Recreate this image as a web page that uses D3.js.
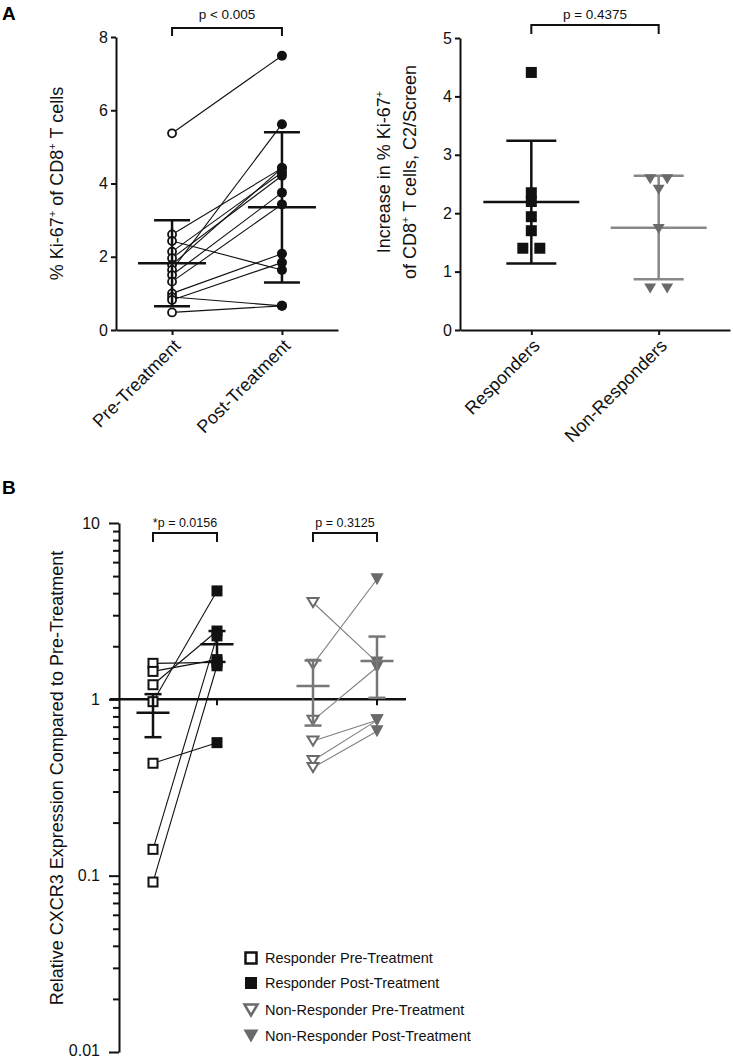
<!DOCTYPE html>
<html><head><meta charset="utf-8">
<script src="https://cdn.jsdelivr.net/npm/d3@7"></script>
<style>body{margin:0;background:#fff}svg{display:block}text{font-family:"Liberation Sans",Arial,sans-serif}</style>
</head><body><svg id="c" width="733" height="1059"></svg>
<script>
// ---------- DATA ----------
// Panel A (left): % Ki-67+ of CD8+ T cells, paired pre/post
const kiCategories = ["Pre-Treatment", "Post-Treatment"];
const kiPre  = [5.37, 2.61, 2.43, 2.14, 1.96, 1.78, 1.64, 1.50, 1.32, 1.00, 0.90, 0.82, 0.48];
const kiPost = [7.49, 4.42, 1.64, 4.30, 4.21, 4.42, 5.62, 3.75, 3.43, 2.08, 0.66, 1.84, 0.66];
const kiMean   = [1.82, 3.35];
const kiSdLow  = [0.65, 1.30];
const kiSdHigh = [3.00, 5.40];
const kiTicks  = [0, 2, 4, 6, 8];
const kiP = "p < 0.005";

// Panel A (right): increase in % Ki-67+, C2/Screen
const incCategories = ["Responders", "Non-Responders"];
const incResponders    = [4.41, 2.35, 2.20, 1.94, 1.70, 1.40, 1.40];
const incNonResponders = [2.58, 2.58, 2.40, 1.73, 0.71, 0.71];
const incMean   = [2.19, 1.75];
const incSdLow  = [1.14, 0.87];
const incSdHigh = [3.24, 2.64];
const incTicks  = [0, 1, 2, 3, 4, 5];
const incP = "p = 0.4375";

// Panel B: relative CXCR3 expression (log scale)
const cxGroups = ["Responder", "Non-Responder"];
const cxTimes  = ["Pre-Treatment", "Post-Treatment"];
const cxRespPre  = [1.60, 1.44, 1.21, 0.97, 0.434, 0.141, 0.092];
const cxRespPost = [1.62, 1.68, 2.44, 4.12, 0.568, 2.29, 1.55];
const cxNonPre   = [3.54, 1.58, 0.76, 0.58, 0.45, 0.41];
const cxNonPost  = [1.62, 4.80, 1.52, 0.76, 0.76, 0.66];
const cxMean    = [[0.84, 2.05], [1.19, 1.65]];
const cxSemLow  = [[0.61, 1.63], [0.71, 1.02]];
const cxSemHigh = [[1.07, 2.44], [1.66, 2.27]];
const cxTicks = [0.01, 0.1, 1, 10];
const cxTickLabels = ["0.01", "0.1", "1", "10"];
const cxP = ["*p = 0.0156", "p = 0.3125"];
const legendLabels = ["Responder Pre-Treatment", "Responder Post-Treatment",
                      "Non-Responder Pre-Treatment", "Non-Responder Post-Treatment"];

// ---------- DRAWING ----------
const svg = d3.select("#c");
const black = "#111", grayLine = "#808080", grayMark = "#6a6a6a";

function styleAxis(g, fs) {
  g.select(".domain").attr("stroke", black).attr("stroke-width", 2);
  g.selectAll(".tick line").attr("stroke", black).attr("stroke-width", 2);
  g.selectAll(".tick text").attr("fill", black).attr("font-size", fs)
    .style("font-family", "'Liberation Sans', Arial, sans-serif");
}
function errBar(g, x, m, lo, hi, hm, hc, color) {
  const add = (x1, y1, x2, y2) => g.append("line").attr("x1", x1).attr("y1", y1).attr("x2", x2).attr("y2", y2)
    .attr("stroke", color).attr("stroke-width", 2.5);
  add(x, lo, x, hi);
  add(x - hc, lo, x + hc, lo);
  add(x - hc, hi, x + hc, hi);
  add(x - hm, m, x + hm, m);
}
function bracket(g, x1, x2, y, leg, label, fs, ty) {
  g.append("path").attr("d", `M${x1},${y + leg}V${y}H${x2}V${y + leg}`)
    .attr("fill", "none").attr("stroke", black).attr("stroke-width", 2);
  g.append("text").attr("x", (x1 + x2) / 2).attr("y", ty).attr("text-anchor", "middle")
    .attr("font-size", fs).attr("fill", black).text(label);
}
function dodge(vals, step) {
  const counts = {}, seen = {};
  vals.forEach(v => counts[v] = (counts[v] || 0) + 1);
  return vals.map(v => { const n = counts[v]; const k = seen[v] = (seen[v] || 0); seen[v]++; return (k - (n - 1) / 2) * step; });
}
const triDown = (w, h) => `M${-w/2},${-h/2}L${w/2},${-h/2}L0,${h/2}Z`;

// ---- Panel labels
svg.append("text").attr("x", 2).attr("y", 20).attr("font-size", 19).attr("font-weight", "bold").text("A");
svg.append("text").attr("x", 2).attr("y", 494).attr("font-size", 19).attr("font-weight", "bold").text("B");

// ---- Panel A left
{
  const g = svg.append("g");
  const y = d3.scaleLinear().domain([0, 8]).range([330, 37]);
  const x = d3.scalePoint().domain(kiCategories).range([116, 338]).padding(0.51);
  g.append("g").attr("transform", "translate(116,0)")
    .call(d3.axisLeft(y).tickValues(kiTicks).tickFormat(d3.format("d")).tickSize(5).tickSizeOuter(0).tickPadding(3))
    .call(a => styleAxis(a, 16));
  g.append("g").attr("transform", "translate(0,330)")
    .call(d3.axisBottom(x).tickSize(5).tickSizeOuter(0))
    .call(a => styleAxis(a, 18))
    .call(a => a.selectAll(".tick text").attr("text-anchor", "end").attr("y", 0).attr("dy", 0)
      .attr("transform", "translate(9,17) rotate(-45)"));
  const xp = x(kiCategories[0]), xq = x(kiCategories[1]);
  kiPre.forEach((v, i) => g.append("line").attr("x1", xp).attr("y1", y(v)).attr("x2", xq).attr("y2", y(kiPost[i]))
    .attr("stroke", black).attr("stroke-width", 1.1));
  g.selectAll("circle.pre").data(kiPre).join("circle").attr("cx", xp).attr("cy", d => y(d)).attr("r", 4)
    .attr("fill", "#fff").attr("stroke", black).attr("stroke-width", 1.8);
  g.selectAll("circle.post").data(kiPost).join("circle").attr("cx", xq).attr("cy", d => y(d)).attr("r", 5)
    .attr("fill", black);
  kiCategories.forEach((c, i) => errBar(g, x(c), y(kiMean[i]), y(kiSdLow[i]), y(kiSdHigh[i]), 34, 18, black));
  bracket(g, xp, xq, 28, 8, kiP, 13.5, 19);
  g.append("text").attr("transform", `translate(63,${(y(0) + y(8)) / 2}) rotate(-90)`).attr("text-anchor", "middle")
    .attr("font-size", 18).attr("fill", black)
    .call(t => { t.append("tspan").text("% Ki-67"); t.append("tspan").attr("font-size", 11).attr("dy", -7).text("+");
      t.append("tspan").attr("dy", 7).text(" of CD8"); t.append("tspan").attr("font-size", 11).attr("dy", -7).text("+");
      t.append("tspan").attr("dy", 7).text(" T cells"); });
}

// ---- Panel A right
{
  const g = svg.append("g");
  const y = d3.scaleLinear().domain([0, 5]).range([330, 38]);
  const x = d3.scalePoint().domain(incCategories).range([460, 730]).padding(0.56);
  g.append("g").attr("transform", "translate(460,0)")
    .call(d3.axisLeft(y).tickValues(incTicks).tickFormat(d3.format("d")).tickSize(5).tickSizeOuter(0).tickPadding(3))
    .call(a => styleAxis(a, 16));
  g.append("g").attr("transform", "translate(0,330)")
    .call(d3.axisBottom(x).tickSize(5).tickSizeOuter(0))
    .call(a => styleAxis(a, 18))
    .call(a => a.selectAll(".tick text").attr("text-anchor", "end").attr("y", 0).attr("dy", 0)
      .attr("transform", "translate(9,17) rotate(-45)"));
  const xr = x(incCategories[0]), xn = x(incCategories[1]);
  const offR = dodge(incResponders, 17), offN = dodge(incNonResponders, 17);
  errBar(g, xr, y(incMean[0]), y(incSdLow[0]), y(incSdHigh[0]), 48, 25, black);
  errBar(g, xn, y(incMean[1]), y(incSdLow[1]), y(incSdHigh[1]), 48, 25, "#888");
  g.selectAll("rect.r").data(incResponders).join("rect")
    .attr("x", (d, i) => xr + offR[i] - 5.5).attr("y", d => y(d) - 5.5).attr("width", 11).attr("height", 11).attr("fill", black);
  g.selectAll("path.n").data(incNonResponders).join("path")
    .attr("transform", (d, i) => `translate(${xn + offN[i]},${y(d)})`).attr("d", triDown(12, 10)).attr("fill", grayMark);
  bracket(g, xr, xn, 25, 9, incP, 13.5, 19);
  const tt = g.append("text").attr("transform", `translate(0,${172}) rotate(-90)`).attr("font-size", 18).attr("fill", black).attr("text-anchor", "middle");
  const l1 = tt.append("tspan").attr("x", 0).attr("y", 390);
  l1.append("tspan").text("Increase in % Ki-67"); l1.append("tspan").attr("font-size", 11).attr("dy", -7).text("+");
  const l2 = tt.append("tspan").attr("x", 0).attr("y", 416);
  l2.append("tspan").text("of CD8"); l2.append("tspan").attr("font-size", 11).attr("dy", -7).text("+");
  l2.append("tspan").attr("dy", 7).text(" T cells, C2/Screen");
}

// ---- Panel B
{
  const g = svg.append("g");
  const y = d3.scaleLog().domain([0.01, 10]).range([1052, 523]);
  const gx = d3.scalePoint().domain(cxGroups).range([119, 411]).padding(0.4125);
  const tx = d3.scalePoint().domain(cxTimes).range([-32, 32]);
  const bx = (gi, ti) => gx(cxGroups[gi]) + tx(cxTimes[ti]);
  const isMajor = d => Math.abs(Math.log10(d) - Math.round(Math.log10(d))) < 1e-9;
  const ticks = [];
  cxTicks.slice(0, -1).forEach(d => { for (let m = 1; m <= 9; m++) ticks.push(m * d); });
  ticks.push(cxTicks[cxTicks.length - 1]);
  g.append("g").attr("transform", "translate(119,0)")
    .call(d3.axisLeft(y).tickValues(ticks).tickSize(6).tickSizeOuter(0).tickPadding(13)
      .tickFormat(d => isMajor(d) ? cxTickLabels[Math.round(Math.log10(d)) + 2] : ""))
    .call(a => styleAxis(a, 16))
    .call(a => a.selectAll(".tick").filter(d => isMajor(d)).select("line").attr("x2", -10))
    .call(a => a.selectAll(".tick").filter(d => Math.abs(d - cxTicks[0]) < 1e-12).select("text").attr("dy", "0.2em"));
  // reference line at 1 with category ticks
  g.append("line").attr("x1", 110).attr("x2", 406).attr("y1", y(1)).attr("y2", y(1)).attr("stroke", black).attr("stroke-width", 2.5);
  [0, 1].forEach(gi => [0, 1].forEach(ti => g.append("line").attr("x1", bx(gi, ti)).attr("x2", bx(gi, ti))
    .attr("y1", y(1)).attr("y2", y(1) + 6).attr("stroke", black).attr("stroke-width", 2)));
  // pair lines
  cxRespPre.forEach((v, i) => g.append("line").attr("x1", bx(0, 0)).attr("y1", y(v)).attr("x2", bx(0, 1)).attr("y2", y(cxRespPost[i]))
    .attr("stroke", black).attr("stroke-width", 1.1));
  cxNonPre.forEach((v, i) => g.append("line").attr("x1", bx(1, 0)).attr("y1", y(v)).attr("x2", bx(1, 1)).attr("y2", y(cxNonPost[i]))
    .attr("stroke", grayLine).attr("stroke-width", 1.1));
  // markers
  g.selectAll("rect.rp").data(cxRespPre).join("rect").attr("x", bx(0, 0) - 4.5).attr("y", d => y(d) - 4.5)
    .attr("width", 9).attr("height", 9).attr("fill", "#fff").attr("stroke", black).attr("stroke-width", 2);
  g.selectAll("rect.rq").data(cxRespPost).join("rect").attr("x", bx(0, 1) - 5.5).attr("y", d => y(d) - 5.5)
    .attr("width", 11).attr("height", 11).attr("fill", black);
  g.selectAll("path.np").data(cxNonPre).join("path").attr("transform", d => `translate(${bx(1, 0)},${y(d)})`)
    .attr("d", triDown(11, 9)).attr("fill", "#fff").attr("stroke", grayMark).attr("stroke-width", 2);
  g.selectAll("path.nq").data(cxNonPost).join("path").attr("transform", d => `translate(${bx(1, 1)},${y(d)})`)
    .attr("d", triDown(13, 12)).attr("fill", grayMark);
  // mean +/- SEM
  [0, 1].forEach(gi => [0, 1].forEach(ti => errBar(g, bx(gi, ti), y(cxMean[gi][ti]), y(cxSemLow[gi][ti]), y(cxSemHigh[gi][ti]),
    16.5, 8.5, gi === 0 ? black : "#777")));
  // brackets
  cxGroups.forEach((c, gi) => bracket(g, bx(gi, 0), bx(gi, 1), 533, 9, cxP[gi], 12.5, 527));
  // axis title
  g.append("text").attr("transform", `translate(63,${778}) rotate(-90)`).attr("text-anchor", "middle")
    .attr("font-size", 18).attr("fill", black).text("Relative CXCR3 Expression Compared to Pre-Treatment");
  // legend
  const rows = [958, 983, 1010, 1036];
  const lg = g.append("g");
  lg.append("rect").attr("x", 245.5).attr("y", rows[0] - 5.5).attr("width", 11).attr("height", 11)
    .attr("fill", "#fff").attr("stroke", black).attr("stroke-width", 2.5);
  lg.append("rect").attr("x", 245).attr("y", rows[1] - 6).attr("width", 12).attr("height", 12).attr("fill", black);
  lg.append("path").attr("transform", `translate(251,${rows[2]})`).attr("d", triDown(13, 11))
    .attr("fill", "#fff").attr("stroke", grayMark).attr("stroke-width", 2.5);
  lg.append("path").attr("transform", `translate(251,${rows[3]})`).attr("d", triDown(15, 13)).attr("fill", grayMark);
  legendLabels.forEach((l, i) => lg.append("text").attr("x", 265).attr("y", rows[i] + 5).attr("font-size", 14.5)
    .attr("fill", black).text(l));
}
</script></body></html>
